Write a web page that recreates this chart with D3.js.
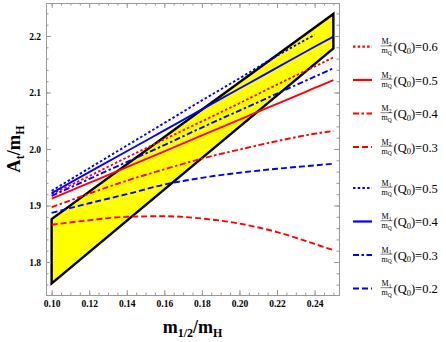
<!DOCTYPE html>
<html>
<head>
<meta charset="utf-8">
<script src="https://cdn.jsdelivr.net/npm/d3@7"></script>
<style>
  body { margin: 0; background: #fff; }
  svg { display: block; }
  .tick text { font-family: "Liberation Serif", serif; font-weight: bold; font-size: 9.5px; fill: #000; }
</style>
</head>
<body>
<div id="chart"></div>
<script>
// m_{1/2}/m_H sample points
const xVals = [0.10, 0.12, 0.14, 0.16, 0.18, 0.20, 0.22, 0.24, 0.25];

// A_t/m_H for each M2/mQ(Q0) and M1/mQ(Q0) case
const m2_06 = [1.920, 1.952, 1.985, 2.017, 2.049, 2.081, 2.114, 2.146, 2.162];
const m2_05 = [1.912, 1.940, 1.968, 1.996, 2.024, 2.052, 2.080, 2.108, 2.122];
const m2_04 = [1.897, 1.921, 1.944, 1.964, 1.983, 1.999, 2.014, 2.027, 2.032];
const m2_03 = [1.866, 1.874, 1.880, 1.881, 1.877, 1.868, 1.853, 1.832, 1.821];
const m1_05 = [1.926, 1.966, 2.006, 2.046, 2.086, 2.125, 2.165, 2.202];
const m1_04 = [1.922, 1.959, 1.996, 2.033, 2.070, 2.107, 2.144, 2.181, 2.199];
const m1_03 = [1.917, 1.947, 1.977, 2.007, 2.038, 2.068, 2.098, 2.128, 2.143];
const m1_02 = [1.887, 1.904, 1.920, 1.937, 1.949, 1.958, 1.965, 1.971, 1.974];

// allowed region corners (x, y)
const regionX = [0.10, 0.10, 0.25, 0.25];
const regionY = [1.762, 1.876, 2.239, 2.178];

const xTicks = [0.10, 0.12, 0.14, 0.16, 0.18, 0.20, 0.22, 0.24];
const yTicks = [1.8, 1.9, 2.0, 2.1, 2.2];

const series = [
  { name: "M", sub: "2", val: "0.6", data: m2_06, color: "#ff0000", dash: "2.5,2.2" },
  { name: "M", sub: "2", val: "0.5", data: m2_05, color: "#ff0000", dash: null },
  { name: "M", sub: "2", val: "0.4", data: m2_04, color: "#ff0000", dash: "6,2.5,2.5,2.5" },
  { name: "M", sub: "2", val: "0.3", data: m2_03, color: "#ff0000", dash: "6,3" },
  { name: "M", sub: "1", val: "0.5", data: m1_05, color: "#0000ff", dash: "2.5,2.2" },
  { name: "M", sub: "1", val: "0.4", data: m1_04, color: "#0000ff", dash: null },
  { name: "M", sub: "1", val: "0.3", data: m1_03, color: "#0000ff", dash: "6,2.5,2.5,2.5" },
  { name: "M", sub: "1", val: "0.2", data: m1_02, color: "#0000ff", dash: "6,3" }
];

const svgWidth = 446, svgHeight = 342;
const margin = { top: 3, right: 107, bottom: 47, left: 46 };
const width = svgWidth - margin.left - margin.right;
const height = svgHeight - margin.top - margin.bottom;

const svg = d3.select("#chart").append("svg")
  .attr("width", svgWidth)
  .attr("height", svgHeight);

const xScale = d3.scaleLinear().domain([0.097, 0.253]).range([0, width]);
const yScale = d3.scaleLinear().domain([1.7416, 2.2584]).range([height, 0]);

const g = svg.append("g")
  .attr("transform", "translate(" + margin.left + "," + margin.top + ")");

g.append("clipPath").attr("id", "plotclip")
  .append("rect").attr("width", width).attr("height", height);

const plot = g.append("g").attr("clip-path", "url(#plotclip)");

// yellow region
plot.append("path")
  .datum(regionX.map((x, i) => [x, regionY[i]]))
  .attr("fill", "#ffff00")
  .attr("stroke", "#000")
  .attr("stroke-width", 2.4)
  .attr("d", d3.line().x(d => xScale(d[0])).y(d => yScale(d[1])).curve(d3.curveLinearClosed));

const line = d3.line()
  .x((d, i) => xScale(xVals[i]))
  .y(d => yScale(d))
  .curve(d3.curveMonotoneX);

series.forEach(s => {
  plot.append("path")
    .datum(s.data)
    .attr("fill", "none")
    .attr("stroke", s.color)
    .attr("stroke-width", 1.9)
    .attr("stroke-dasharray", s.dash)
    .attr("d", line);
});

// frame + ticks
const frameColor = "#999";
function styleAxis(sel) {
  sel.select(".domain").attr("stroke", frameColor);
  sel.selectAll(".tick line").attr("stroke", frameColor);
}
const minorX = d3.range(0.10, 0.2501, 0.005);
const minorY = d3.range(1.76, 2.2401, 0.02);

g.append("g").attr("transform", "translate(0," + height + ")")
  .call(d3.axisBottom(xScale).tickValues(minorX).tickSize(-2.5).tickSizeOuter(0).tickFormat(""))
  .call(styleAxis);
g.append("g").attr("transform", "translate(0," + height + ")")
  .call(d3.axisBottom(xScale).tickValues(xTicks).tickSize(-5).tickSizeOuter(0).tickPadding(5).tickFormat(d3.format(".2f")))
  .call(styleAxis);
g.append("g")
  .call(d3.axisTop(xScale).tickValues(minorX).tickSize(-2.5).tickSizeOuter(0).tickFormat(""))
  .call(styleAxis);
g.append("g")
  .call(d3.axisTop(xScale).tickValues(xTicks).tickSize(-5).tickSizeOuter(0).tickFormat(""))
  .call(styleAxis);

g.append("g")
  .call(d3.axisLeft(yScale).tickValues(minorY).tickSize(-2.5).tickSizeOuter(0).tickFormat(""))
  .call(styleAxis);
g.append("g")
  .call(d3.axisLeft(yScale).tickValues(yTicks).tickSize(-5).tickSizeOuter(0).tickPadding(5).tickFormat(d3.format(".1f")))
  .call(styleAxis);
g.append("g").attr("transform", "translate(" + width + ",0)")
  .call(d3.axisRight(yScale).tickValues(minorY).tickSize(-2.5).tickSizeOuter(0).tickFormat(""))
  .call(styleAxis);
g.append("g").attr("transform", "translate(" + width + ",0)")
  .call(d3.axisRight(yScale).tickValues(yTicks).tickSize(-5).tickSizeOuter(0).tickFormat(""))
  .call(styleAxis);

// axis labels
const xl = svg.append("text")
  .attr("x", margin.left + width / 2)
  .attr("y", 333)
  .attr("text-anchor", "middle")
  .style("font-family", "Liberation Serif, serif")
  .style("font-weight", "bold")
  .style("font-size", "18px");
xl.append("tspan").text("m");
xl.append("tspan").attr("dy", 4).style("font-size", "12px").text("1/2");
xl.append("tspan").attr("dy", -4).text("/m");
xl.append("tspan").attr("dy", 4).style("font-size", "12px").text("H");

const yl = svg.append("text")
  .attr("transform", "translate(20," + (margin.top + height / 2) + ") rotate(-90)")
  .attr("text-anchor", "middle")
  .style("font-family", "Liberation Serif, serif")
  .style("font-weight", "bold")
  .style("font-size", "18.5px");
yl.append("tspan").text("A");
yl.append("tspan").attr("dy", 4).style("font-size", "12px").text("t");
yl.append("tspan").attr("dy", -4).text("/m");
yl.append("tspan").attr("dy", 4).style("font-size", "12px").text("H");

// legend
const legendY = [46.7, 80, 113.5, 147, 188, 221.5, 255, 288.5];
const leg = svg.append("g").style("font-family", "Liberation Serif, serif");
series.forEach((s, i) => {
  const cy = legendY[i];
  const item = leg.append("g");
  item.append("line")
    .attr("x1", 353).attr("x2", 372).attr("y1", cy).attr("y2", cy)
    .attr("stroke", s.color).attr("stroke-width", 2.2)
    .attr("stroke-dasharray", s.dash);
  const num = item.append("text")
    .attr("x", 386.5).attr("y", cy - 2.5)
    .attr("text-anchor", "middle")
    .style("font-size", "8px");
  num.append("tspan").text(s.name);
  num.append("tspan").attr("dy", 1.5).style("font-size", "5.5px").text(s.sub);
  item.append("line")
    .attr("x1", 380.5).attr("x2", 392.5).attr("y1", cy - 0.8).attr("y2", cy - 0.8)
    .attr("stroke", "#000").attr("stroke-width", 0.5);
  const den = item.append("text")
    .attr("x", 386.5).attr("y", cy + 6.5)
    .attr("text-anchor", "middle")
    .style("font-size", "8px");
  den.append("tspan").text("m");
  den.append("tspan").attr("dy", 1.5).style("font-size", "5.5px").text("Q");
  const rest = item.append("text")
    .attr("x", 393.5).attr("y", cy + 4.5)
    .style("font-size", "12.5px");
  rest.append("tspan").text("(Q");
  rest.append("tspan").attr("dy", 2.5).style("font-size", "8.5px").text("0");
  rest.append("tspan").attr("dy", -2.5).text(")=" + s.val);
});
</script>
</body>
</html>
